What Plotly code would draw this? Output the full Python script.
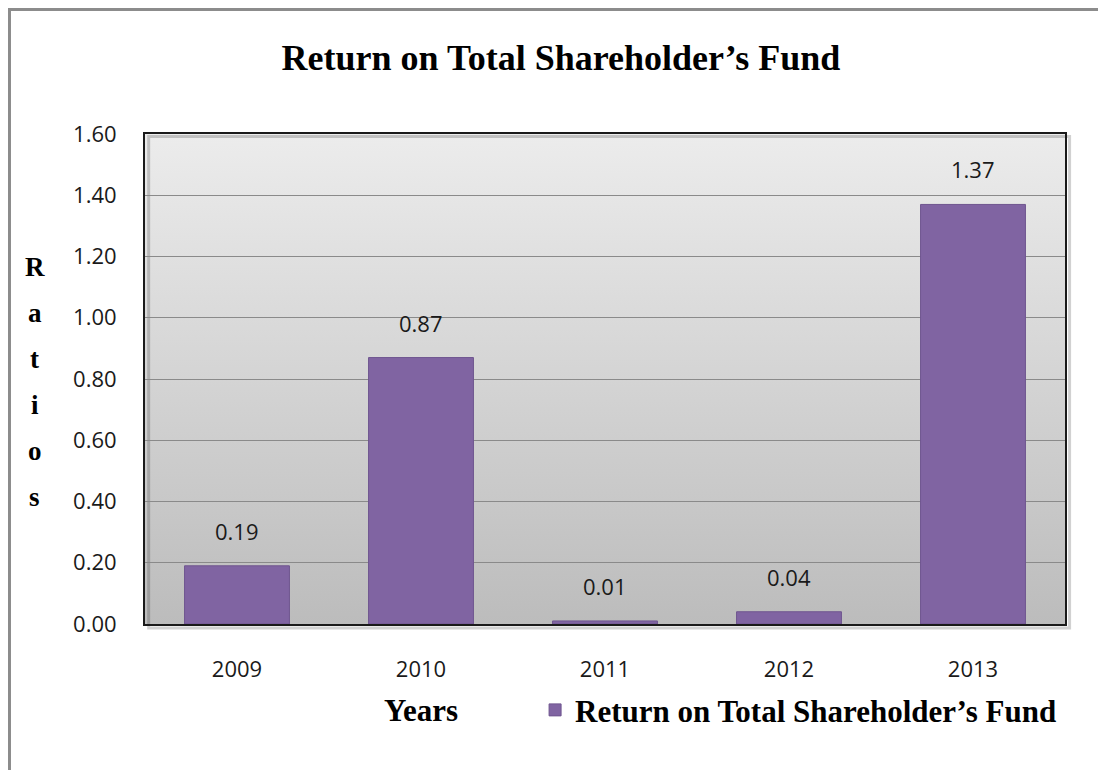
import plotly.graph_objects as go

years = ["2009", "2010", "2011", "2012", "2013"]
ratios = [0.19, 0.87, 0.01, 0.04, 1.37]
series_name = "Return on Total Shareholder\u2019s Fund"
y_ticks = [0.0, 0.2, 0.4, 0.6, 0.8, 1.0, 1.2, 1.4, 1.6]
y_title_letters = ["R", "a", "t", "i", "o", "s"]

purple = "#8064a2"
serif = "Liberation Serif, Times New Roman, serif"
sans = "Open Sans, Noto Sans, sans-serif"

# vertical grey gradient for the plot area
grad_svg = ("data:image/svg+xml;utf8,<svg xmlns='http://www.w3.org/2000/svg' width='10' height='10' "
            "preserveAspectRatio='none'><defs><linearGradient id='g' x1='0' y1='0' x2='0' y2='1'>"
            "<stop offset='0' stop-color='%23ececec'/><stop offset='1' stop-color='%23bcbcbc'/>"
            "</linearGradient></defs><rect width='10' height='10' fill='url(%23g)'/></svg>")

fig = go.Figure()
fig.add_trace(go.Bar(x=years, y=ratios, name=f"<b>{series_name}</b>",
                     marker=dict(color=purple, line=dict(color="#6f558f", width=1))))

# value labels (category index used as x so the numeric-looking years are not misread)
for i, v in enumerate(ratios):
    fig.add_annotation(x=i, y=v, text=f"{v:.2f}", showarrow=False, yanchor="bottom",
                       yshift=18, font=dict(family=sans, size=22, color="#1a1a1a"))

# stacked "Ratios" axis title
for i, ch in enumerate(y_title_letters):
    fig.add_annotation(xref="paper", yref="paper", x=-0.1196, y=0.494 - (i - 2.5) * 46 / 490,
                       xanchor="center", yanchor="middle",
                       text=f"<b>{ch}</b>", showarrow=False,
                       font=dict(family=serif, size=27, color="black"))

fig.add_annotation(xref="paper", yref="paper", x=0.3, y=-0.176, xanchor="center", yanchor="middle",
                   text="<b>Years</b>", showarrow=False,
                   font=dict(family=serif, size=31, color="black"))

fig.update_layout(
    width=1106, height=770,
    margin=dict(l=137, r=49, t=126, b=154),
    paper_bgcolor="white", plot_bgcolor="rgba(0,0,0,0)",
    title=dict(text=f"<b>{series_name}</b>", x=0.5, xanchor="center", y=0.936, yanchor="middle",
               font=dict(family=serif, size=36, color="black")),
    bargap=0.43,
    showlegend=True,
    legend=dict(orientation="h", x=0.424, xanchor="left", y=-0.176, yanchor="middle",
                font=dict(family=serif, size=31, color="black"), itemwidth=30,
                bgcolor="rgba(0,0,0,0)"),
    images=[dict(source=grad_svg, xref="paper", yref="paper", x=0, y=1, sizex=1, sizey=1,
                 xanchor="left", yanchor="top", sizing="stretch", layer="below")],
    shapes=[
        # outer chart border (only top and left visible)
        dict(type="rect", xref="paper", yref="paper", x0=-0.1473, y0=-0.5, x1=1.2, y1=1.254,
             line=dict(color="#8c8c8c", width=3), layer="below"),
        # soft shadow of plot area
        dict(type="rect", xref="paper", yref="paper", x0=0.004, y0=-0.008, x1=1.005, y1=0.995,
             line=dict(color="rgba(0,0,0,0.18)", width=3), layer="below"),
    ],
)

fig.update_xaxes(type="category", range=[-0.5, 4.5], showline=True, linecolor="#1a1a1a",
                 linewidth=2, mirror=True,
                 tickfont=dict(family=sans, size=22, color="#1a1a1a"),
                 ticks="", ticklabelstandoff=25, showgrid=False)
fig.update_yaxes(range=[0, 1.6], tickvals=y_ticks, tickformat=".2f",
                 showline=True, linecolor="#1a1a1a", linewidth=2, mirror=True,
                 showgrid=True, gridcolor="#8a8a8a", gridwidth=1, zeroline=False,
                 tickfont=dict(family=sans, size=22, color="#1a1a1a"),
                 ticks="", ticklabelstandoff=22)

fig.write_html("out.html")
